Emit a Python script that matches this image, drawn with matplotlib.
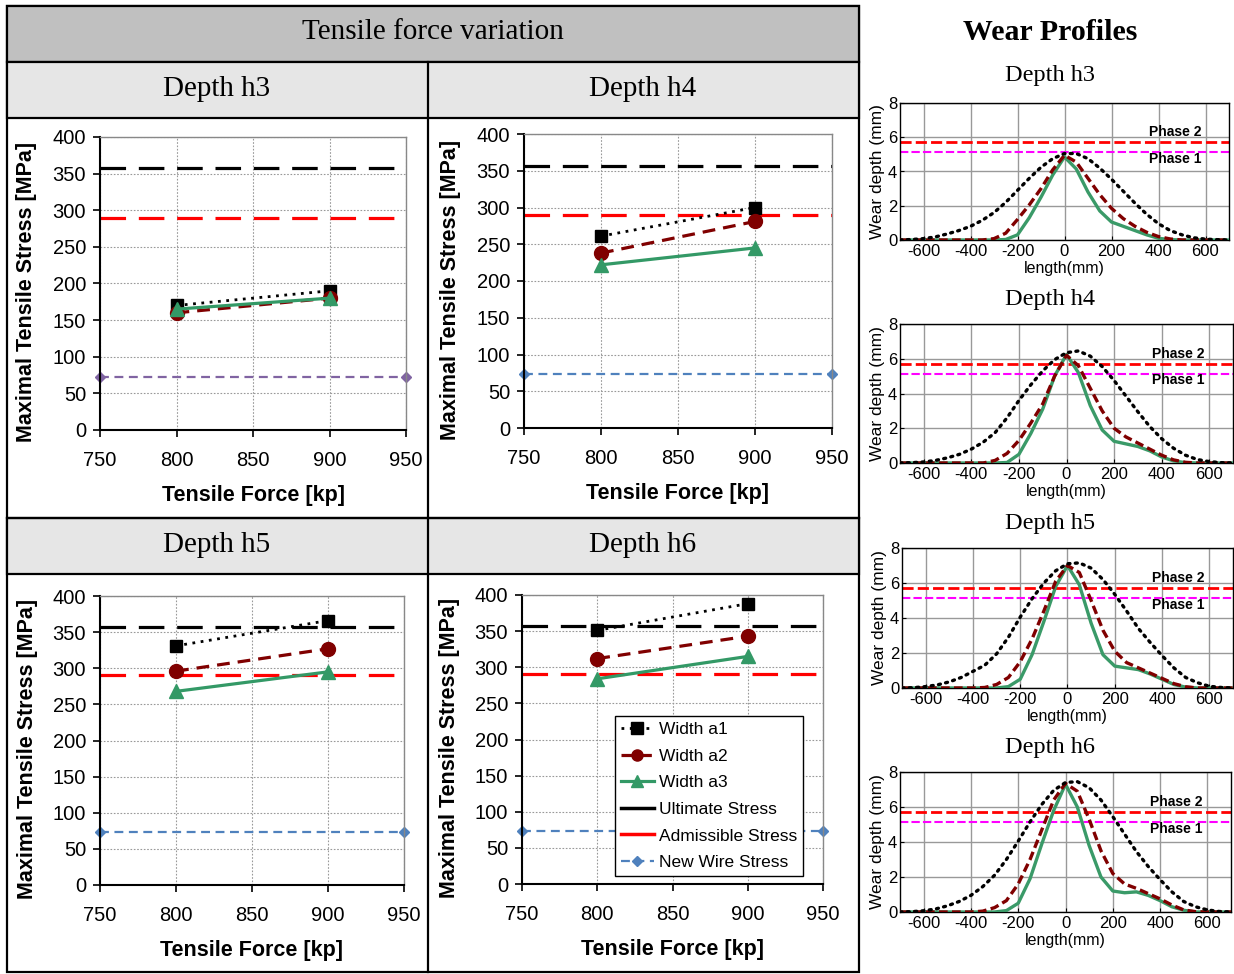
import numpy as np
import matplotlib
matplotlib.use("Agg")
import matplotlib.pyplot as plt
from matplotlib.lines import Line2D
from matplotlib.patches import Rectangle

plt.rcParams['font.family'] = ['Liberation Sans', 'DejaVu Sans']
plt.rcParams['axes.unicode_minus'] = False

W, H = 1234, 974

# ---- tensile force variation data ----
force = [800, 900]
force_range = [750, 950]
panel_names = ['Depth h3', 'Depth h4', 'Depth h5', 'Depth h6']
width_a1 = [[170, 190], [261, 300], [331, 366], [351, 388]]
width_a2 = [[160, 180], [238, 281], [296, 327], [312, 343]]
width_a3 = [[165, 180], [222, 245], [268, 295], [284, 315]]
ultimate_stress = 357
admissible_stress = 290
new_wire_stress = 73
new_wire_colors = ['#8064a2', '#4f81bd', '#4f81bd', '#4f81bd']

# ---- wear profile data (length in mm, wear depth in mm) ----
length_mm = list(range(-700, 701, 50))
wear_a1 = {
    'h3': [0.0, 0.03, 0.08, 0.18, 0.35, 0.55, 0.8, 1.15, 1.6, 2.2, 2.9, 3.6, 4.25, 4.75, 5.05,
           5.05, 4.75, 4.2, 3.55, 2.85, 2.15, 1.5, 0.95, 0.55, 0.3, 0.13, 0.05, 0.02, 0.0],
    'h4': [0.0, 0.02, 0.06, 0.15, 0.3, 0.5, 0.8, 1.2, 1.75, 2.6, 3.6, 4.5, 5.3, 5.95, 6.35,
           6.45, 6.15, 5.55, 4.75, 3.85, 2.95, 2.1, 1.4, 0.85, 0.45, 0.2, 0.08, 0.02, 0.0],
    'h5': [0.0, 0.02, 0.08, 0.18, 0.35, 0.6, 0.95, 1.3, 1.95, 2.9, 4.05, 5.1, 6.0, 6.7, 7.1,
           7.15, 6.85, 6.2, 5.35, 4.4, 3.4, 2.6, 1.85, 1.15, 0.6, 0.3, 0.1, 0.03, 0.0],
    'h6': [0.0, 0.02, 0.07, 0.17, 0.35, 0.6, 0.95, 1.45, 2.1, 3.0, 4.05, 5.15, 6.15, 6.95, 7.4,
           7.45, 7.1, 6.4, 5.45, 4.45, 3.45, 2.6, 1.85, 1.15, 0.6, 0.3, 0.12, 0.03, 0.0],
}
wear_a2 = {
    'h3': [0, 0, 0, 0, 0, 0, 0, 0, 0.08, 0.4, 1.2, 2.05, 3.0, 4.1, 4.95,
           4.55, 3.6, 2.65, 1.85, 1.25, 0.8, 0.45, 0.2, 0.06, 0, 0, 0, 0, 0],
    'h4': [0, 0, 0, 0, 0, 0, 0, 0, 0.15, 0.55, 1.3, 2.3, 3.4, 5.0, 6.2,
           5.6, 4.3, 3.0, 2.0, 1.5, 1.15, 0.8, 0.45, 0.18, 0.04, 0, 0, 0, 0],
    'h5': [0, 0, 0, 0, 0, 0, 0, 0.03, 0.2, 0.6, 1.5, 2.8, 4.4, 6.1, 7.0,
           6.6, 5.0, 3.3, 2.1, 1.45, 1.15, 0.85, 0.55, 0.25, 0.07, 0, 0, 0, 0],
    'h6': [0, 0, 0, 0, 0, 0, 0, 0.05, 0.25, 0.65, 1.6, 3.0, 4.7, 6.4, 7.35,
           6.9, 5.3, 3.5, 2.2, 1.6, 1.35, 1.05, 0.75, 0.4, 0.12, 0.02, 0, 0, 0],
}
wear_a3 = {
    'h3': [0, 0, 0, 0, 0, 0, 0, 0, 0, 0.03, 0.3, 1.3, 2.5, 3.8, 4.85,
           4.15, 2.8, 1.7, 1.05, 0.8, 0.55, 0.3, 0.1, 0.02, 0, 0, 0, 0, 0],
    'h4': [0, 0, 0, 0, 0, 0, 0, 0, 0, 0.03, 0.5, 1.7, 3.1, 5.0, 6.25,
           5.2, 3.3, 1.9, 1.25, 1.1, 0.95, 0.7, 0.35, 0.12, 0.02, 0, 0, 0, 0],
    'h5': [0, 0, 0, 0, 0, 0, 0, 0, 0, 0.08, 0.5, 1.9, 3.8, 5.8, 7.0,
           5.9, 3.7, 1.9, 1.25, 1.15, 1.05, 0.8, 0.5, 0.2, 0.05, 0, 0, 0, 0],
    'h6': [0, 0, 0, 0, 0, 0, 0, 0, 0, 0.08, 0.5, 1.9, 3.9, 5.8, 7.3,
           6.0, 3.8, 2.0, 1.2, 1.1, 1.15, 0.95, 0.65, 0.3, 0.1, 0.0, 0, 0, 0],
}
phase2 = 5.7
phase1 = 5.15


def px(x0, y0, x1, y1):
    return [x0 / W, 1 - y1 / H, (x1 - x0) / W, (y1 - y0) / H]


fig = plt.figure(figsize=(W / 100, H / 100), dpi=100)

# ---- table frame on the left ----
def cell(x0, y0, x1, y1, color):
    fig.add_artist(Rectangle((x0 / W, 1 - y1 / H), (x1 - x0) / W, (y1 - y0) / H,
                             facecolor=color, edgecolor='black', lw=1.6,
                             transform=fig.transFigure, zorder=0))

cell(7, 6, 859, 972, 'white')
cell(7, 6, 859, 62, '#c0c0c0')
cell(7, 62, 859, 118, '#e6e6e6')
cell(7, 518, 859, 574, '#e6e6e6')
fig.add_artist(Line2D([428 / W, 428 / W], [1 - 62 / H, 1 - 972 / H], color='black', lw=1.6,
                      transform=fig.transFigure))
fig.add_artist(Line2D([7 / W, 859 / W], [1 - 518 / H, 1 - 518 / H], color='black', lw=1.6,
                      transform=fig.transFigure))

serif = ['Liberation Serif', 'DejaVu Serif']
fig.text(433 / W, 1 - 32 / H, 'Tensile force variation', family=serif, fontsize=21,
         ha='center', va='center')
head_pos = [(217, 89), (643, 89), (217, 545), (643, 545)]
for name, (hx, hy) in zip(panel_names, head_pos):
    fig.text(hx / W, 1 - hy / H, name, family=serif, fontsize=21, ha='center', va='center')

# ---- stress panels ----
ax_boxes = [px(100, 137, 406, 430), px(524, 134, 832, 428),
            px(100, 596, 404, 885), px(522, 595, 823, 884)]

for i, box in enumerate(ax_boxes):
    ax = fig.add_axes(box)
    ax.plot(force_range, [ultimate_stress] * 2, color='black', lw=2.3, ls=(0, (8, 4)), zorder=2)
    ax.plot(force_range, [admissible_stress] * 2, color='red', lw=2.3, ls=(0, (8, 4)), zorder=2)
    ax.plot(force_range, [new_wire_stress] * 2, color=new_wire_colors[i], lw=1.6, ls=(0, (4, 2.5)),
            marker='D', markersize=5, zorder=2, clip_on=False)
    ax.plot(force, width_a1[i], color='black', lw=2, ls=(0, (1, 2)), marker='s', markersize=9,
            zorder=3)
    ax.plot(force, width_a2[i], color='#800000', lw=2.3, ls=(0, (4, 2.5)), marker='o',
            markersize=10, zorder=4)
    ax.plot(force, width_a3[i], color='#339966', lw=2.3, marker='^', markersize=10, zorder=5)
    ax.set_xlim(750, 950)
    ax.set_ylim(0, 400)
    ax.set_xticks([750, 800, 850, 900, 950])
    ax.set_yticks(range(0, 401, 50))
    ax.grid(True, ls=(0, (1.5, 1.5)), color='#999999', lw=0.8)
    ax.set_axisbelow(True)
    ax.tick_params(axis='both', labelsize=14.5, length=5, width=1.2)
    ax.tick_params(axis='x', pad=10)
    ax.tick_params(axis='y', pad=5)
    for s in ['left', 'bottom']:
        ax.spines[s].set_color('black')
        ax.spines[s].set_linewidth(1.5)
    for s in ['top', 'right']:
        ax.spines[s].set_color('#888888')
        ax.spines[s].set_linewidth(1)
    ax.set_xlabel('Tensile Force [kp]', fontsize=15.5, fontweight='bold', labelpad=11)
    ax.set_ylabel('Maximal Tensile Stress [MPa]', fontsize=15.5, fontweight='bold')
    ax.yaxis.set_label_coords(-0.205, 0.47)

    if i == 3:
        handles = [
            Line2D([], [], color='black', lw=2, ls=(0, (1, 2)), marker='s', markersize=8),
            Line2D([], [], color='#800000', lw=2.3, ls=(0, (4, 1.5)), marker='o', markersize=8),
            Line2D([], [], color='#339966', lw=2.3, marker='^', markersize=8),
            Line2D([], [], color='black', lw=2.5),
            Line2D([], [], color='red', lw=2.5),
            Line2D([], [], color='#4f81bd', lw=1.6, ls=(0, (4, 2.5)), marker='D', markersize=5),
        ]
        labels = ['Width a1', 'Width a2', 'Width a3', 'Ultimate Stress',
                  'Admissible Stress', 'New Wire Stress']
        leg = ax.legend(handles, labels, loc='lower left', bbox_to_anchor=(0.308, 0.027),
                        fontsize=12.5, frameon=True, fancybox=False, edgecolor='black',
                        framealpha=1, handlelength=1.9, handletextpad=0.3,
                        labelspacing=0.66, borderpad=0.35, borderaxespad=0)
        leg.get_frame().set_linewidth(1)

# ---- wear profiles on the right ----
fig.text(1050 / W, 1 - 33 / H, 'Wear Profiles', family=serif, fontsize=21.5, fontweight='bold',
         ha='center', va='center')
wear_keys = ['h3', 'h4', 'h5', 'h6']
wear_boxes = [px(900, 103, 1229, 240), px(900, 324, 1233, 463),
              px(902, 548, 1233, 688), px(900, 772, 1231, 912)]
title_y = [75, 300, 524, 748]

for key, box, ty, name in zip(wear_keys, wear_boxes, title_y, panel_names):
    fig.text(1050 / W, 1 - ty / H, name, family=serif, fontsize=17.5, ha='center', va='center')
    ax = fig.add_axes(box)
    ax.plot(length_mm, wear_a1[key], color='black', lw=2.4, ls=(0, (0.6, 1.6)),
            dash_capstyle='round', zorder=5)
    ax.plot(length_mm, wear_a2[key], color='#800000', lw=2.4, ls=(0, (2.6, 1.3)), zorder=4)
    ax.plot(length_mm, wear_a3[key], color='#3a9a68', lw=2.4, zorder=3)
    ax.axhline(phase2, color='red', lw=2, ls=(0, (4, 1.5)), zorder=2)
    ax.axhline(phase1, color='magenta', lw=1.5, ls=(0, (4, 1.5)), zorder=2)
    ax.text(470, 6.3, 'Phase 2', fontsize=10, fontweight='bold', ha='center', va='center')
    ax.text(470, 4.75, 'Phase 1', fontsize=10, fontweight='bold', ha='center', va='center')
    ax.set_xlim(-700, 700)
    ax.set_ylim(0, 8)
    ax.set_xticks([-600, -400, -200, 0, 200, 400, 600])
    ax.set_yticks([0, 2, 4, 6, 8])
    ax.grid(True, color='#999999', lw=1)
    ax.set_axisbelow(True)
    ax.tick_params(axis='both', labelsize=12, direction='in', length=3, pad=2)
    ax.tick_params(axis='x', pad=3)
    for s in ax.spines.values():
        s.set_color('black')
        s.set_linewidth(1)
    ax.set_xlabel('length(mm)', fontsize=11.5, labelpad=1)
    ax.set_ylabel('Wear depth (mm)', fontsize=12.5, labelpad=2)

fig.savefig('out.png', dpi=100)
